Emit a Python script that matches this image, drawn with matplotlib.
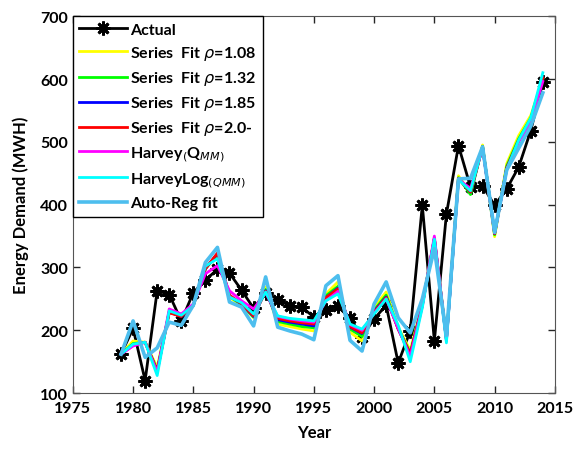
#!/usr/bin/env python3

## energy demand: actual vs fitted series (1979-2014)

import matplotlib
matplotlib.use("Agg")
import matplotlib.pyplot as plt

plt.rcParams["font.family"] = ["Lato", "DejaVu Sans"]
plt.rcParams["mathtext.fontset"] = "dejavusans"

years = list(range(1979, 2015))

actual = [162, 203, 120, 263, 257, 215, 260, 280, 297, 291, 264, 235,
          260, 249, 239, 237, 221, 233, 238, 219, 190, 218, 240, 148,
          199, 399, 183, 385, 494, 428, 430, 399, 425, 460, 518, 595]

fit_108 = [162, 183, 181, 141, 229, 223, 240, 298, 320, 252, 240, 220,
           269, 210, 206, 202, 199, 258, 277, 197, 183, 237, 261, 205,
           168, 243, 345, 188, 446, 418, 495, 349, 465, 510, 542, 600]
fit_132 = [162, 179, 181, 137, 230, 223, 240, 298, 321, 254, 241, 221,
           265, 214, 210, 206, 204, 255, 270, 202, 190, 232, 256, 203,
           164, 241, 346, 186, 443, 416, 493, 352, 461, 505, 538, 602]
fit_185 = [162, 177, 181, 135, 229, 222, 240, 298, 322, 255, 242, 222,
           263, 217, 213, 210, 207, 252, 267, 205, 195, 230, 253, 202,
           162, 240, 346, 185, 442, 420, 492, 354, 458, 502, 535, 602]
fit_20 = [162, 176, 181, 135, 228, 222, 240, 298, 323, 256, 242, 223,
          262, 219, 215, 212, 210, 252, 266, 206, 196, 229, 252, 202,
          162, 240, 346, 185, 442, 420, 492, 354, 458, 502, 535, 602]
harvey_q = [162, 175, 181, 133, 234, 226, 242, 290, 303, 263, 247, 234,
            260, 222, 218, 215, 213, 247, 262, 209, 200, 227, 250, 203,
            158, 238, 350, 183, 440, 426, 490, 355, 455, 500, 532, 596]
harvey_log = [162, 178, 181, 128, 231, 224, 239, 302, 314, 253, 244, 226,
              261, 223, 219, 217, 215, 247, 258, 210, 202, 226, 250, 208,
              150, 236, 345, 180, 440, 422, 492, 356, 456, 503, 538, 610]
auto_reg = [162, 215, 157, 172, 213, 208, 240, 308, 332, 245, 237, 207,
            285, 205, 199, 194, 185, 271, 287, 184, 167, 242, 277, 220,
            196, 250, 330, 192, 441, 442, 492, 356, 455, 490, 525, 578]

labels = ["Actual",
          r"Series  Fit $\rho$=1.08",
          r"Series  Fit $\rho$=1.32",
          r"Series  Fit $\rho$=1.85",
          r"Series  Fit $\rho$=2.0-",
          r"Harvey$_{(}$Q$_{MM)}$",
          r"HarveyLog$_{(QMM)}$",
          "Auto-Reg fit"]

fig, ax = plt.subplots(figsize=(5.78, 4.52), dpi=100)
fig.subplots_adjust(left=0.126, right=0.96, bottom=0.128, top=0.962)

ax.plot(years, actual, color="black", lw=2, marker=(8, 2, 0), ms=10,
        mew=2, label=labels[0], zorder=2)
fits = [fit_108, fit_132, fit_185, fit_20, harvey_q, harvey_log, auto_reg]
colors = ["#ffff00", "#00ff00", "#0000ff", "#ff0000", "#ff00ff", "#00ffff", "#4dbeee"]
widths = [2, 2, 2, 2, 2, 2, 2.6]
for y, c, w, lab in zip(fits, colors, widths, labels[1:]):
    ax.plot(years, y, color=c, lw=w, label=lab, zorder=3)

ax.set_xlim(1975, 2015)
ax.set_ylim(100, 700)
ax.set_xticks(range(1975, 2016, 5))
ax.set_yticks(range(100, 701, 100))
ax.tick_params(direction="in", top=True, right=True, length=5, width=1,
               labelsize=11.5, colors="#262626")
ax.tick_params(axis="x", pad=6)
for lab in ax.get_xticklabels() + ax.get_yticklabels():
    lab.set_fontweight("bold")
    lab.set_color("black")
for s in ax.spines.values():
    s.set_color("#555555")

ax.set_xlabel("Year", fontsize=12, fontweight="bold", labelpad=6)
ax.set_ylabel("Energy Demand (MWH)", fontsize=12, fontweight="bold", labelpad=8)

leg = ax.legend(loc="upper left", borderaxespad=0,
                prop={"weight": "bold", "size": 11.5}, handlelength=3.0,
                labelspacing=0.45, handletextpad=0.2, fancybox=False,
                framealpha=1, edgecolor="black", borderpad=0.4)
leg.get_frame().set_linewidth(1)

plt.savefig("out.png", dpi=100)
